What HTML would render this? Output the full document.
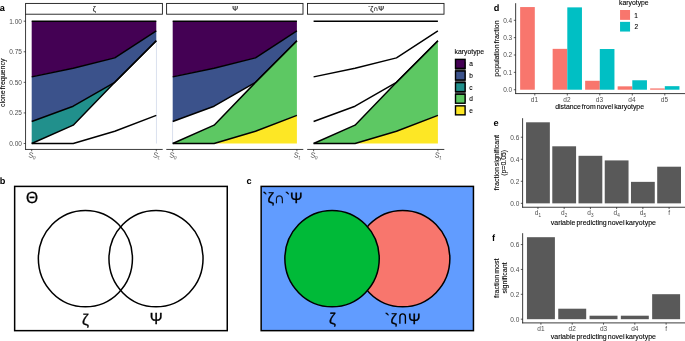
<!DOCTYPE html>
<html><head><meta charset="utf-8"><title>figure</title>
<style>
html,body{margin:0;padding:0;background:#fff;}
body{width:685px;height:341px;overflow:hidden;}
svg{display:block;will-change:transform;font-family:'Liberation Sans', sans-serif;}
</style></head><body>
<svg width="685" height="341" viewBox="0 0 685 341">
<rect width="685" height="341" fill="#fff"/>
<rect x="25.60" y="3.42" width="136.80" height="10.78" fill="#fff" stroke="#1a1a1a" stroke-width="0.9"/>
<text x="94.3" y="11.0" font-size="7" fill="#1a1a1a" text-anchor="middle" font-weight="normal" stroke="#1a1a1a" stroke-width="0.2">ζ</text>
<polygon points="31.70,143.50 73.23,143.50 114.77,131.27 156.30,115.37 156.30,143.50 114.77,143.50 73.23,143.50 31.70,143.50" fill="none" stroke="none"/>
<polygon points="31.70,143.50 73.23,125.16 114.77,82.35 156.30,40.77 156.30,115.37 114.77,131.27 73.23,143.50 31.70,143.50" fill="none" stroke="none"/>
<polygon points="31.70,121.49 73.23,106.20 114.77,82.35 156.30,40.77 156.30,40.77 114.77,82.35 73.23,125.16 31.70,143.50" fill="#21908C" stroke="none"/>
<polygon points="31.70,76.85 73.23,68.29 114.77,57.89 156.30,30.98 156.30,40.77 114.77,82.35 73.23,106.20 31.70,121.49" fill="#3B528B" stroke="none"/>
<polygon points="31.70,21.20 73.23,21.20 114.77,21.20 156.30,21.20 156.30,30.98 114.77,57.89 73.23,68.29 31.70,76.85" fill="#440154" stroke="none"/>
<line x1="156.45" y1="40.768" x2="156.45" y2="143.5" stroke="#b4c1dc" stroke-width="0.5"/>
<polyline points="31.70,143.50 73.23,143.50 114.77,131.27 156.30,115.37" fill="none" stroke="#000" stroke-width="1.45" stroke-linejoin="round"/>
<polyline points="31.70,143.50 73.23,125.16 114.77,82.35 156.30,40.77" fill="none" stroke="#000" stroke-width="1.45" stroke-linejoin="round"/>
<polyline points="31.70,121.49 73.23,106.20 114.77,82.35 156.30,40.77" fill="none" stroke="#000" stroke-width="1.45" stroke-linejoin="round"/>
<polyline points="31.70,76.85 73.23,68.29 114.77,57.89 156.30,30.98" fill="none" stroke="#000" stroke-width="1.45" stroke-linejoin="round"/>
<polyline points="31.70,21.20 73.23,21.20 114.77,21.20 156.30,21.20" fill="none" stroke="#000" stroke-width="1.45" stroke-linejoin="round"/>
<line x1="25.3" y1="149.45" x2="162.7" y2="149.45" stroke="#1a1a1a" stroke-width="0.85"/>
<line x1="31.700000000000003" y1="149.45" x2="31.700000000000003" y2="151.25" stroke="#1a1a1a" stroke-width="0.7"/>
<text transform="translate(28.10,156.9) rotate(13)" font-size="7.4" fill="#555">S<tspan font-size="4.9" dy="1.0" dx="-0.2">0</tspan></text>
<line x1="156.29999999999998" y1="149.45" x2="156.29999999999998" y2="151.25" stroke="#1a1a1a" stroke-width="0.7"/>
<text transform="translate(152.70,156.9) rotate(13)" font-size="7.4" fill="#555">S<tspan font-size="4.9" dy="1.0" dx="-0.2">1</tspan></text>
<rect x="166.60" y="3.42" width="136.40" height="10.78" fill="#fff" stroke="#1a1a1a" stroke-width="0.9"/>
<text x="235.10000000000002" y="11.0" font-size="7" fill="#1a1a1a" text-anchor="middle" font-weight="normal" stroke="#1a1a1a" stroke-width="0.2">Ψ</text>
<polygon points="172.70,143.50 214.10,143.50 255.50,131.27 296.90,115.37 296.90,143.50 255.50,143.50 214.10,143.50 172.70,143.50" fill="#FDE725" stroke="none"/>
<polygon points="172.70,143.50 214.10,125.16 255.50,82.35 296.90,40.77 296.90,115.37 255.50,131.27 214.10,143.50 172.70,143.50" fill="#5DC863" stroke="none"/>
<polygon points="172.70,121.49 214.10,106.20 255.50,82.35 296.90,40.77 296.90,40.77 255.50,82.35 214.10,125.16 172.70,143.50" fill="none" stroke="none"/>
<polygon points="172.70,76.85 214.10,68.29 255.50,57.89 296.90,30.98 296.90,40.77 255.50,82.35 214.10,106.20 172.70,121.49" fill="#3B528B" stroke="none"/>
<polygon points="172.70,21.20 214.10,21.20 255.50,21.20 296.90,21.20 296.90,30.98 255.50,57.89 214.10,68.29 172.70,76.85" fill="#440154" stroke="none"/>
<line x1="172.55" y1="121.486" x2="172.55" y2="143.5" stroke="#b4c1dc" stroke-width="0.5"/>
<polyline points="172.70,143.50 214.10,143.50 255.50,131.27 296.90,115.37" fill="none" stroke="#000" stroke-width="1.45" stroke-linejoin="round"/>
<polyline points="172.70,143.50 214.10,125.16 255.50,82.35 296.90,40.77" fill="none" stroke="#000" stroke-width="1.45" stroke-linejoin="round"/>
<polyline points="172.70,121.49 214.10,106.20 255.50,82.35 296.90,40.77" fill="none" stroke="#000" stroke-width="1.45" stroke-linejoin="round"/>
<polyline points="172.70,76.85 214.10,68.29 255.50,57.89 296.90,30.98" fill="none" stroke="#000" stroke-width="1.45" stroke-linejoin="round"/>
<polyline points="172.70,21.20 214.10,21.20 255.50,21.20 296.90,21.20" fill="none" stroke="#000" stroke-width="1.45" stroke-linejoin="round"/>
<line x1="166.3" y1="149.45" x2="303.3" y2="149.45" stroke="#1a1a1a" stroke-width="0.85"/>
<line x1="172.70000000000002" y1="149.45" x2="172.70000000000002" y2="151.25" stroke="#1a1a1a" stroke-width="0.7"/>
<text transform="translate(169.10,156.9) rotate(13)" font-size="7.4" fill="#555">S<tspan font-size="4.9" dy="1.0" dx="-0.2">0</tspan></text>
<line x1="296.90000000000003" y1="149.45" x2="296.90000000000003" y2="151.25" stroke="#1a1a1a" stroke-width="0.7"/>
<text transform="translate(293.30,156.9) rotate(13)" font-size="7.4" fill="#555">S<tspan font-size="4.9" dy="1.0" dx="-0.2">1</tspan></text>
<rect x="307.50" y="3.42" width="136.50" height="10.78" fill="#fff" stroke="#1a1a1a" stroke-width="0.9"/>
<text x="376.05" y="11.0" font-size="7" fill="#1a1a1a" text-anchor="middle" font-weight="normal" stroke="#1a1a1a" stroke-width="0.2">`ζ∩Ψ</text>
<polygon points="313.60,143.50 355.03,143.50 396.47,131.27 437.90,115.37 437.90,143.50 396.47,143.50 355.03,143.50 313.60,143.50" fill="#FDE725" stroke="none"/>
<polygon points="313.60,143.50 355.03,125.16 396.47,82.35 437.90,40.77 437.90,115.37 396.47,131.27 355.03,143.50 313.60,143.50" fill="#5DC863" stroke="none"/>
<polygon points="313.60,121.49 355.03,106.20 396.47,82.35 437.90,40.77 437.90,40.77 396.47,82.35 355.03,125.16 313.60,143.50" fill="none" stroke="none"/>
<polygon points="313.60,76.85 355.03,68.29 396.47,57.89 437.90,30.98 437.90,40.77 396.47,82.35 355.03,106.20 313.60,121.49" fill="none" stroke="none"/>
<polygon points="313.60,21.20 355.03,21.20 396.47,21.20 437.90,21.20 437.90,30.98 396.47,57.89 355.03,68.29 313.60,76.85" fill="none" stroke="none"/>
<polyline points="313.60,143.50 355.03,143.50 396.47,131.27 437.90,115.37" fill="none" stroke="#000" stroke-width="1.45" stroke-linejoin="round"/>
<polyline points="313.60,143.50 355.03,125.16 396.47,82.35 437.90,40.77" fill="none" stroke="#000" stroke-width="1.45" stroke-linejoin="round"/>
<polyline points="313.60,121.49 355.03,106.20 396.47,82.35 437.90,40.77" fill="none" stroke="#000" stroke-width="1.45" stroke-linejoin="round"/>
<polyline points="313.60,76.85 355.03,68.29 396.47,57.89 437.90,30.98" fill="none" stroke="#000" stroke-width="1.45" stroke-linejoin="round"/>
<polyline points="313.60,21.20 355.03,21.20 396.47,21.20 437.90,21.20" fill="none" stroke="#000" stroke-width="1.45" stroke-linejoin="round"/>
<line x1="307.2" y1="149.45" x2="444.3" y2="149.45" stroke="#1a1a1a" stroke-width="0.85"/>
<line x1="313.59999999999997" y1="149.45" x2="313.59999999999997" y2="151.25" stroke="#1a1a1a" stroke-width="0.7"/>
<text transform="translate(310.00,156.9) rotate(13)" font-size="7.4" fill="#555">S<tspan font-size="4.9" dy="1.0" dx="-0.2">0</tspan></text>
<line x1="437.90000000000003" y1="149.45" x2="437.90000000000003" y2="151.25" stroke="#1a1a1a" stroke-width="0.7"/>
<text transform="translate(434.30,156.9) rotate(13)" font-size="7.4" fill="#555">S<tspan font-size="4.9" dy="1.0" dx="-0.2">1</tspan></text>
<line x1="25.55" y1="14" x2="25.55" y2="149.85" stroke="#1a1a1a" stroke-width="0.85"/>
<line x1="23.7" y1="143.5" x2="25.55" y2="143.5" stroke="#1a1a1a" stroke-width="0.7"/>
<text x="21.9" y="145.9" font-size="6.5" fill="#4d4d4d" text-anchor="end" font-weight="normal" >0.00</text>
<line x1="23.7" y1="112.925" x2="25.55" y2="112.925" stroke="#1a1a1a" stroke-width="0.7"/>
<text x="21.9" y="115.325" font-size="6.5" fill="#4d4d4d" text-anchor="end" font-weight="normal" >0.25</text>
<line x1="23.7" y1="82.35" x2="25.55" y2="82.35" stroke="#1a1a1a" stroke-width="0.7"/>
<text x="21.9" y="84.75" font-size="6.5" fill="#4d4d4d" text-anchor="end" font-weight="normal" >0.50</text>
<line x1="23.7" y1="51.775000000000006" x2="25.55" y2="51.775000000000006" stroke="#1a1a1a" stroke-width="0.7"/>
<text x="21.9" y="54.175000000000004" font-size="6.5" fill="#4d4d4d" text-anchor="end" font-weight="normal" >0.75</text>
<line x1="23.7" y1="21.200000000000003" x2="25.55" y2="21.200000000000003" stroke="#1a1a1a" stroke-width="0.7"/>
<text x="21.9" y="23.6" font-size="6.5" fill="#4d4d4d" text-anchor="end" font-weight="normal" >1.00</text>
<text transform="translate(4.8,82.85) rotate(-90)" font-size="7.0" fill="#000" text-anchor="middle" word-spacing="-0.9" stroke="#000" stroke-width="0.1">clone frequency</text>
<text x="-0.2" y="10.9" font-size="9.2" fill="#000" text-anchor="start" font-weight="bold"  text-rendering="geometricPrecision">a</text>
<text x="454.5" y="54.2" font-size="6.85" fill="#000" text-anchor="start" font-weight="normal"  stroke="#000" stroke-width="0.1">karyotype</text>
<rect x="455.00" y="62.00" width="10.60" height="40.00" fill="#5c5c5c" stroke="none" stroke-width="0"/>
<rect x="455.50" y="59.37" width="9.60" height="9.00" fill="#440154" stroke="#000" stroke-width="1.4"/>
<text x="469.3" y="66.37" font-size="6.5" fill="#000" text-anchor="start" font-weight="normal"  stroke="#000" stroke-width="0.1">a</text>
<rect x="455.50" y="70.99" width="9.60" height="9.00" fill="#3B528B" stroke="#000" stroke-width="1.4"/>
<text x="469.3" y="77.99000000000001" font-size="6.5" fill="#000" text-anchor="start" font-weight="normal"  stroke="#000" stroke-width="0.1">b</text>
<rect x="455.50" y="82.61" width="9.60" height="9.00" fill="#21908C" stroke="#000" stroke-width="1.4"/>
<text x="469.3" y="89.61" font-size="6.5" fill="#000" text-anchor="start" font-weight="normal"  stroke="#000" stroke-width="0.1">c</text>
<rect x="455.50" y="94.23" width="9.60" height="9.00" fill="#5DC863" stroke="#000" stroke-width="1.4"/>
<text x="469.3" y="101.23" font-size="6.5" fill="#000" text-anchor="start" font-weight="normal"  stroke="#000" stroke-width="0.1">d</text>
<rect x="455.50" y="105.85" width="9.60" height="9.00" fill="#FDE725" stroke="#000" stroke-width="1.4"/>
<text x="469.3" y="112.85000000000001" font-size="6.5" fill="#000" text-anchor="start" font-weight="normal"  stroke="#000" stroke-width="0.1">e</text>
<text x="-0.3" y="183.5" font-size="9.2" fill="#000" text-anchor="start" font-weight="bold"  text-rendering="geometricPrecision">b</text>
<rect x="14.65" y="186.40" width="212.60" height="144.25" fill="#fff" stroke="#000" stroke-width="1.5"/>
<ellipse cx="85.4" cy="258.6" rx="47.05" ry="48.2" fill="none" stroke="#000" stroke-width="1.5"/>
<ellipse cx="156.0" cy="258.6" rx="47.05" ry="48.2" fill="none" stroke="#000" stroke-width="1.5"/>
<text transform="translate(25.9,202.85) scale(1,1.05)" font-size="15.5" fill="#000" text-anchor="start" stroke="#000" stroke-width="0.3" text-rendering="geometricPrecision">Θ</text>
<text transform="translate(85.55,324.6) scale(1,1.0)" font-size="15.7" fill="#000" text-anchor="middle" stroke="#000" stroke-width="0.3" text-rendering="geometricPrecision">ζ</text>
<text transform="translate(156.2,323.7) scale(1,1.04)" font-size="15.4" fill="#000" text-anchor="middle" stroke="#000" stroke-width="0.3" text-rendering="geometricPrecision">Ψ</text>
<text x="246.5" y="183.5" font-size="9.2" fill="#000" text-anchor="start" font-weight="bold"  text-rendering="geometricPrecision">c</text>
<rect x="261.15" y="186.40" width="212.30" height="144.25" fill="#619CFF" stroke="#000" stroke-width="1.5"/>
<ellipse cx="402.66" cy="258.6" rx="47.2" ry="48.2" fill="#F8766D" stroke="#000" stroke-width="1.5"/>
<ellipse cx="332.05" cy="258.6" rx="47.2" ry="48.2" fill="#00BA38" stroke="#000" stroke-width="1.5"/>
<text transform="translate(262.5,203.2) scale(1,1.0)" font-size="15" fill="#000" text-anchor="start" stroke="#000" stroke-width="0.3" text-rendering="geometricPrecision">`ζ∩`Ψ</text>
<text transform="translate(332.5,324.4) scale(1,1.0)" font-size="15.5" fill="#000" text-anchor="middle" stroke="#000" stroke-width="0.3" text-rendering="geometricPrecision">ζ</text>
<text font-size="15" fill="#000" stroke="#000" stroke-width="0.3" text-rendering="geometricPrecision" x="384.84 390.57 407.96" y="323.8">`ζΨ</text>
<path d="M399.9,323.7 V316.8 A2.75,2.9 0 0 1 405.4,316.8 V323.7" fill="none" stroke="#000" stroke-width="1.35"/>
<text x="493.8" y="11.05" font-size="9.2" fill="#000" text-anchor="start" font-weight="bold"  text-rendering="geometricPrecision">d</text>
<line x1="515.65" y1="3.2" x2="515.65" y2="94.0" stroke="#1a1a1a" stroke-width="0.85"/>
<line x1="515.3" y1="93.6" x2="685" y2="93.6" stroke="#1a1a1a" stroke-width="0.85"/>
<line x1="513.8" y1="89.72" x2="515.65" y2="89.72" stroke="#1a1a1a" stroke-width="0.7"/>
<text x="512.2" y="92.12" font-size="6.5" fill="#4d4d4d" text-anchor="end" font-weight="normal" >0.0</text>
<line x1="513.8" y1="72.365" x2="515.65" y2="72.365" stroke="#1a1a1a" stroke-width="0.7"/>
<text x="512.2" y="74.765" font-size="6.5" fill="#4d4d4d" text-anchor="end" font-weight="normal" >0.1</text>
<line x1="513.8" y1="55.01" x2="515.65" y2="55.01" stroke="#1a1a1a" stroke-width="0.7"/>
<text x="512.2" y="57.41" font-size="6.5" fill="#4d4d4d" text-anchor="end" font-weight="normal" >0.2</text>
<line x1="513.8" y1="37.654999999999994" x2="515.65" y2="37.654999999999994" stroke="#1a1a1a" stroke-width="0.7"/>
<text x="512.2" y="40.05499999999999" font-size="6.5" fill="#4d4d4d" text-anchor="end" font-weight="normal" >0.3</text>
<line x1="513.8" y1="20.299999999999997" x2="515.65" y2="20.299999999999997" stroke="#1a1a1a" stroke-width="0.7"/>
<text x="512.2" y="22.699999999999996" font-size="6.5" fill="#4d4d4d" text-anchor="end" font-weight="normal" >0.4</text>
<rect x="520.15" y="7.06" width="14.65" height="82.66" fill="#F8766D" stroke="none" stroke-width="0"/>
<line x1="534.8" y1="93.6" x2="534.8" y2="95.5" stroke="#1a1a1a" stroke-width="0.7"/>
<text x="534.4" y="102.0" font-size="6.5" fill="#4d4d4d" text-anchor="middle" font-weight="normal" >d1</text>
<rect x="552.65" y="48.85" width="14.65" height="40.87" fill="#F8766D" stroke="none" stroke-width="0"/>
<rect x="567.30" y="7.37" width="14.65" height="82.35" fill="#00BFC4" stroke="none" stroke-width="0"/>
<line x1="567.3" y1="93.6" x2="567.3" y2="95.5" stroke="#1a1a1a" stroke-width="0.7"/>
<text x="566.9" y="102.0" font-size="6.5" fill="#4d4d4d" text-anchor="middle" font-weight="normal" >d2</text>
<rect x="585.15" y="80.78" width="14.65" height="8.94" fill="#F8766D" stroke="none" stroke-width="0"/>
<rect x="599.80" y="49.02" width="14.65" height="40.70" fill="#00BFC4" stroke="none" stroke-width="0"/>
<line x1="599.8" y1="93.6" x2="599.8" y2="95.5" stroke="#1a1a1a" stroke-width="0.7"/>
<text x="599.4" y="102.0" font-size="6.5" fill="#4d4d4d" text-anchor="middle" font-weight="normal" >d3</text>
<rect x="617.65" y="86.34" width="14.65" height="3.38" fill="#F8766D" stroke="none" stroke-width="0"/>
<rect x="632.30" y="80.26" width="14.65" height="9.46" fill="#00BFC4" stroke="none" stroke-width="0"/>
<line x1="632.3" y1="93.6" x2="632.3" y2="95.5" stroke="#1a1a1a" stroke-width="0.7"/>
<text x="631.9" y="102.0" font-size="6.5" fill="#4d4d4d" text-anchor="middle" font-weight="normal" >d4</text>
<rect x="650.15" y="88.42" width="14.65" height="1.30" fill="#F8766D" stroke="none" stroke-width="0"/>
<rect x="664.80" y="86.16" width="14.65" height="3.56" fill="#00BFC4" stroke="none" stroke-width="0"/>
<line x1="664.8" y1="93.6" x2="664.8" y2="95.5" stroke="#1a1a1a" stroke-width="0.7"/>
<text x="664.4" y="102.0" font-size="6.5" fill="#4d4d4d" text-anchor="middle" font-weight="normal" >d5</text>
<text x="599.6" y="109.4" font-size="6.9" fill="#000" text-anchor="middle" font-weight="normal" word-spacing="-0.9" stroke="#000" stroke-width="0.1">distance from novel karyotype</text>
<text transform="translate(498.8,48.5) rotate(-90)" font-size="7.0" fill="#000" text-anchor="middle" word-spacing="-0.9" stroke="#000" stroke-width="0.1">population fraction</text>
<text x="619.0" y="5.0" font-size="6.85" fill="#000" text-anchor="start" font-weight="normal"  stroke="#000" stroke-width="0.1">karyotype</text>
<rect x="620.05" y="10.00" width="10.00" height="9.85" fill="#F8766D" stroke="none" stroke-width="0"/>
<rect x="620.05" y="21.85" width="10.00" height="9.70" fill="#00BFC4" stroke="none" stroke-width="0"/>
<text x="634.3" y="17.7" font-size="6.5" fill="#000" text-anchor="start" font-weight="normal"  stroke="#000" stroke-width="0.1">1</text>
<text x="634.5" y="29.4" font-size="6.5" fill="#000" text-anchor="start" font-weight="normal"  stroke="#000" stroke-width="0.1">2</text>
<text x="493.5" y="126.15" font-size="9.2" fill="#000" text-anchor="start" font-weight="bold"  text-rendering="geometricPrecision">e</text>
<line x1="522.6" y1="118.2" x2="522.6" y2="207.6" stroke="#1a1a1a" stroke-width="0.85"/>
<line x1="522.2" y1="207.25" x2="685" y2="207.25" stroke="#1a1a1a" stroke-width="0.85"/>
<line x1="520.8" y1="203.35" x2="522.6" y2="203.35" stroke="#1a1a1a" stroke-width="0.7"/>
<text x="519.3" y="205.75" font-size="6.5" fill="#4d4d4d" text-anchor="end" font-weight="normal" >0.0</text>
<line x1="520.8" y1="181.31" x2="522.6" y2="181.31" stroke="#1a1a1a" stroke-width="0.7"/>
<text x="519.3" y="183.71" font-size="6.5" fill="#4d4d4d" text-anchor="end" font-weight="normal" >0.2</text>
<line x1="520.8" y1="159.26999999999998" x2="522.6" y2="159.26999999999998" stroke="#1a1a1a" stroke-width="0.7"/>
<text x="519.3" y="161.67" font-size="6.5" fill="#4d4d4d" text-anchor="end" font-weight="normal" >0.4</text>
<line x1="520.8" y1="137.23" x2="522.6" y2="137.23" stroke="#1a1a1a" stroke-width="0.7"/>
<text x="519.3" y="139.63" font-size="6.5" fill="#4d4d4d" text-anchor="end" font-weight="normal" >0.6</text>
<rect x="526.05" y="122.30" width="23.80" height="81.05" fill="#595959" stroke="none" stroke-width="0"/>
<line x1="537.9499999999999" y1="207.25" x2="537.9499999999999" y2="209.1" stroke="#1a1a1a" stroke-width="0.7"/>
<text x="537.9499999999999" y="215.4" font-size="6.5" fill="#4d4d4d" text-anchor="middle" font-weight="normal" >d<tspan font-size="4.6" dy="1.3">1</tspan></text>
<rect x="552.28" y="146.30" width="23.80" height="57.05" fill="#595959" stroke="none" stroke-width="0"/>
<line x1="564.18" y1="207.25" x2="564.18" y2="209.1" stroke="#1a1a1a" stroke-width="0.7"/>
<text x="564.18" y="215.4" font-size="6.5" fill="#4d4d4d" text-anchor="middle" font-weight="normal" >d<tspan font-size="4.6" dy="1.3">2</tspan></text>
<rect x="578.51" y="155.80" width="23.80" height="47.55" fill="#595959" stroke="none" stroke-width="0"/>
<line x1="590.41" y1="207.25" x2="590.41" y2="209.1" stroke="#1a1a1a" stroke-width="0.7"/>
<text x="590.41" y="215.4" font-size="6.5" fill="#4d4d4d" text-anchor="middle" font-weight="normal" >d<tspan font-size="4.6" dy="1.3">3</tspan></text>
<rect x="604.74" y="160.41" width="23.80" height="42.94" fill="#595959" stroke="none" stroke-width="0"/>
<line x1="616.64" y1="207.25" x2="616.64" y2="209.1" stroke="#1a1a1a" stroke-width="0.7"/>
<text x="616.64" y="215.4" font-size="6.5" fill="#4d4d4d" text-anchor="middle" font-weight="normal" >d<tspan font-size="4.6" dy="1.3">4</tspan></text>
<rect x="630.97" y="181.86" width="23.80" height="21.49" fill="#595959" stroke="none" stroke-width="0"/>
<line x1="642.8699999999999" y1="207.25" x2="642.8699999999999" y2="209.1" stroke="#1a1a1a" stroke-width="0.7"/>
<text x="642.8699999999999" y="215.4" font-size="6.5" fill="#4d4d4d" text-anchor="middle" font-weight="normal" >d<tspan font-size="4.6" dy="1.3">5</tspan></text>
<rect x="657.20" y="166.70" width="23.80" height="36.65" fill="#595959" stroke="none" stroke-width="0"/>
<line x1="669.0999999999999" y1="207.25" x2="669.0999999999999" y2="209.1" stroke="#1a1a1a" stroke-width="0.7"/>
<text x="669.0999999999999" y="215.4" font-size="6.5" fill="#4d4d4d" text-anchor="middle" font-weight="normal" >f</text>
<text x="603.4" y="224.7" font-size="7.0" fill="#000" text-anchor="middle" font-weight="normal" word-spacing="-0.9" stroke="#000" stroke-width="0.1">variable predicting novel karyotype</text>
<text transform="translate(498.8,162.6) rotate(-90)" font-size="7.0" fill="#000" text-anchor="middle" word-spacing="-0.9" stroke="#000" stroke-width="0.1">fraction significant</text>
<text transform="translate(506.1,162.85) rotate(-90)" font-size="6.9" fill="#000" text-anchor="middle" word-spacing="-0.9" stroke="#000" stroke-width="0.1">(p=0.05)</text>
<text x="492.1" y="240.85" font-size="9.2" fill="#000" text-anchor="start" font-weight="bold"  text-rendering="geometricPrecision">f</text>
<line x1="522.65" y1="233.2" x2="522.65" y2="323.3" stroke="#1a1a1a" stroke-width="0.85"/>
<line x1="522.2" y1="322.9" x2="685" y2="322.9" stroke="#1a1a1a" stroke-width="0.85"/>
<line x1="520.8" y1="319.2" x2="522.65" y2="319.2" stroke="#1a1a1a" stroke-width="0.7"/>
<text x="519.3" y="321.59999999999997" font-size="6.5" fill="#4d4d4d" text-anchor="end" font-weight="normal" >0.0</text>
<line x1="520.8" y1="294.32" x2="522.65" y2="294.32" stroke="#1a1a1a" stroke-width="0.7"/>
<text x="519.3" y="296.71999999999997" font-size="6.5" fill="#4d4d4d" text-anchor="end" font-weight="normal" >0.2</text>
<line x1="520.8" y1="269.44" x2="522.65" y2="269.44" stroke="#1a1a1a" stroke-width="0.7"/>
<text x="519.3" y="271.84" font-size="6.5" fill="#4d4d4d" text-anchor="end" font-weight="normal" >0.4</text>
<line x1="520.8" y1="244.56" x2="522.65" y2="244.56" stroke="#1a1a1a" stroke-width="0.7"/>
<text x="519.3" y="246.96" font-size="6.5" fill="#4d4d4d" text-anchor="end" font-weight="normal" >0.6</text>
<rect x="526.95" y="237.20" width="27.95" height="82.00" fill="#595959" stroke="none" stroke-width="0"/>
<line x1="540.9200000000001" y1="322.9" x2="540.9200000000001" y2="324.7" stroke="#1a1a1a" stroke-width="0.7"/>
<text x="540.9200000000001" y="331.3" font-size="6.5" fill="#4d4d4d" text-anchor="middle" font-weight="normal" >d1</text>
<rect x="558.25" y="308.70" width="27.95" height="10.50" fill="#595959" stroke="none" stroke-width="0"/>
<line x1="572.22" y1="322.9" x2="572.22" y2="324.7" stroke="#1a1a1a" stroke-width="0.7"/>
<text x="572.22" y="331.3" font-size="6.5" fill="#4d4d4d" text-anchor="middle" font-weight="normal" >d2</text>
<rect x="589.55" y="315.70" width="27.95" height="3.50" fill="#595959" stroke="none" stroke-width="0"/>
<line x1="603.5200000000001" y1="322.9" x2="603.5200000000001" y2="324.7" stroke="#1a1a1a" stroke-width="0.7"/>
<text x="603.5200000000001" y="331.3" font-size="6.5" fill="#4d4d4d" text-anchor="middle" font-weight="normal" >d3</text>
<rect x="620.85" y="315.70" width="27.95" height="3.50" fill="#595959" stroke="none" stroke-width="0"/>
<line x1="634.82" y1="322.9" x2="634.82" y2="324.7" stroke="#1a1a1a" stroke-width="0.7"/>
<text x="634.82" y="331.3" font-size="6.5" fill="#4d4d4d" text-anchor="middle" font-weight="normal" >d4</text>
<rect x="652.15" y="294.20" width="27.95" height="25.00" fill="#595959" stroke="none" stroke-width="0"/>
<line x1="666.1200000000001" y1="322.9" x2="666.1200000000001" y2="324.7" stroke="#1a1a1a" stroke-width="0.7"/>
<text x="666.1200000000001" y="331.3" font-size="6.5" fill="#4d4d4d" text-anchor="middle" font-weight="normal" >f</text>
<text x="603.4" y="339.1" font-size="7.0" fill="#000" text-anchor="middle" font-weight="normal" word-spacing="-0.9" stroke="#000" stroke-width="0.1">variable predicting novel karyotype</text>
<text transform="translate(498.9,278.15) rotate(-90)" font-size="7.0" fill="#000" text-anchor="middle" word-spacing="-0.9" stroke="#000" stroke-width="0.1">fraction most</text>
<text transform="translate(506.6,278.0) rotate(-90)" font-size="7.0" fill="#000" text-anchor="middle" word-spacing="-0.9" stroke="#000" stroke-width="0.1">significant</text>
</svg>
</body></html>
